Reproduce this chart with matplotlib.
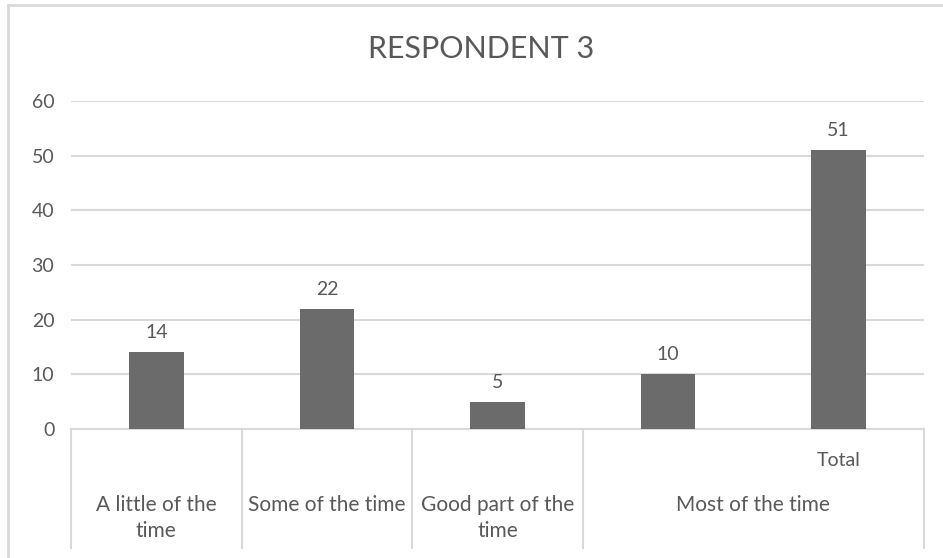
import matplotlib.pyplot as plt
from matplotlib.lines import Line2D
import matplotlib.transforms as mtransforms

plt.rcParams['font.family'] = ['Lato', 'DejaVu Sans']

# datos
valores = [14, 22, 5, 10, 51]
categorias = ["A little of the\ntime", "Some of the time", "Good part of the\ntime", "Most of the time"]
grupo_spans = [(0, 0), (1, 1), (2, 2), (3, 4)]
sub_etiquetas = ["", "", "", "", "Total"]
titulo = "RESPONDENT 3"

gris_texto = "#595959"
gris_barra = "#6b6b6b"
gris_linea = "#d9d9d9"

W, H = 943, 558
fig = plt.figure(figsize=(W / 100, H / 100), dpi=100)
fig.patch.set_facecolor("white")

# area de trazado en pixeles
x0, x1 = 71, 924
y_cero, y_max = 429, 101
ax = fig.add_axes([x0 / W, (H - y_cero) / H, (x1 - x0) / W, (y_cero - y_max) / H])

pos = list(range(len(valores)))
barras = ax.bar(pos, valores, width=0.32, color=gris_barra, zorder=3)
ax.set_xlim(-0.5, len(valores) - 0.5)
ax.set_ylim(0, 60)
ax.set_yticks(range(0, 61, 10))
ax.yaxis.grid(True, color=gris_linea, linewidth=1.5, zorder=0)
for s in ["top", "right", "left"]:
    ax.spines[s].set_visible(False)
ax.spines["bottom"].set_color(gris_linea)
ax.spines["bottom"].set_linewidth(1.5)
ax.tick_params(axis="y", length=0, labelsize=14, labelcolor=gris_texto, pad=12)
ax.tick_params(axis="x", length=0, labelbottom=False)

# etiquetas de valor
for b, v in zip(barras, valores):
    ax.annotate(str(v), (b.get_x() + b.get_width() / 2, v), xytext=(0, 8),
                textcoords="offset points", ha="center", va="bottom",
                fontsize=14, color=gris_texto)

# eje de categorias en dos niveles
trans = mtransforms.blended_transform_factory(ax.transData, ax.transAxes)
alto = y_cero - y_max
fondo = -(548 - y_cero) / alto
bordes = [-0.5] + [fin + 0.5 for _, fin in grupo_spans]
for xb in bordes:
    ax.add_line(Line2D([xb, xb], [0, fondo], transform=trans, color=gris_linea,
                       linewidth=1.5, clip_on=False))

for cat, (ini, fin) in zip(categorias, grupo_spans):
    ax.text((ini + fin) / 2, -(495 - y_cero) / alto, cat, transform=trans,
            ha="center", va="top", fontsize=15, color=gris_texto, linespacing=1.4)

for p, sub in zip(pos, sub_etiquetas):
    if sub:
        ax.text(p, -(461 - y_cero) / alto, sub, transform=trans, ha="center",
                va="center", fontsize=14, color=gris_texto)

fig.text(481 / W, 1 - 49 / H, titulo, ha="center", va="center", fontsize=22, color=gris_texto)

# marco del grafico
fig.add_artist(Line2D([8 / W, 1], [1 - 5 / H, 1 - 5 / H], transform=fig.transFigure,
                      color=gris_linea, linewidth=2))
fig.add_artist(Line2D([8 / W, 8 / W], [0, 1 - 5 / H], transform=fig.transFigure,
                      color=gris_linea, linewidth=2))

fig.savefig("out.png", dpi=100)
